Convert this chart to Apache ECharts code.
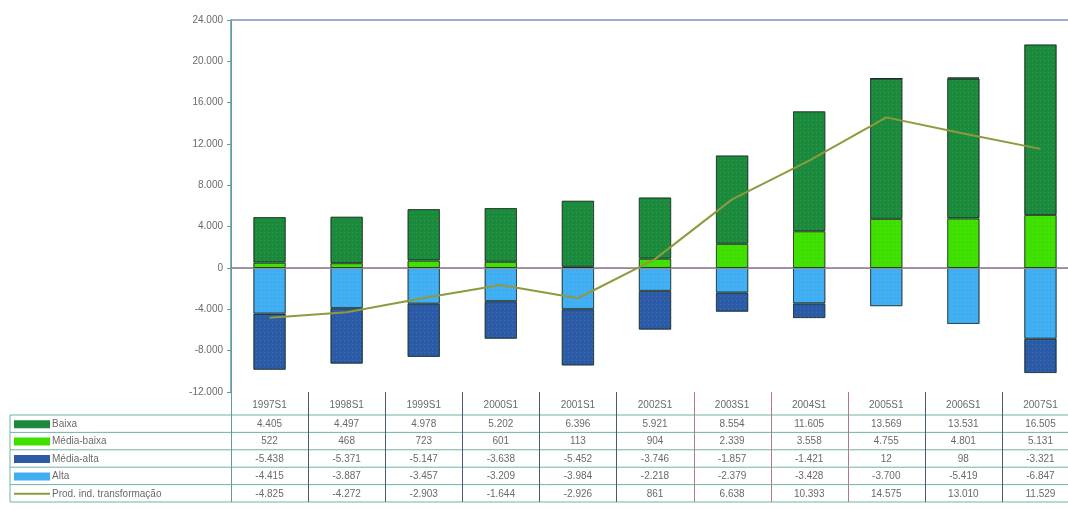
<!DOCTYPE html>
<html>
<head>
<meta charset="utf-8">
<script src="https://cdn.jsdelivr.net/npm/echarts@6/dist/echarts.min.js"></script>
<style>
  html, body { margin: 0; padding: 0; background: #fff; overflow: hidden; width: 1068px; height: 510px; }
  #chart { width: 1080px; height: 510px; }
</style>
</head>
<body>
<div id="chart"></div>
<script>
// Periods (first half of each year)
const periods = ['1997S1', '1998S1', '1999S1', '2000S1', '2001S1', '2002S1', '2003S1', '2004S1', '2005S1', '2006S1', '2007S1'];

// Trade balance by technological intensity
const baixa      = [4405, 4497, 4978, 5202, 6396, 5921, 8554, 11605, 13569, 13531, 16505];
const mediaBaixa = [522, 468, 723, 601, 113, 904, 2339, 3558, 4755, 4801, 5131];
const mediaAlta  = [-5438, -5371, -5147, -3638, -5452, -3746, -1857, -1421, 12, 98, -3321];
const alta       = [-4415, -3887, -3457, -3209, -3984, -2218, -2379, -3428, -3700, -5419, -6847];
const prodInd    = [-4825, -4272, -2903, -1644, -2926, 861, 6638, 10393, 14575, 13010, 11529];

const yTicks = { min: -12000, max: 24000, step: 4000 };

const colors = {
  'Baixa': '#1b8a3c',
  'Média-baixa': '#3fe000',
  'Média-alta': '#2b5aa6',
  'Alta': '#40aef2',
  'Prod. ind. transformação': '#8f9a3e'
};

const fmt = v => {
  const s = Math.abs(v).toString().replace(/\B(?=(\d{3})+(?!\d))/g, '.');
  return (v < 0 ? '-' : '') + s;
};

const chart = echarts.init(document.getElementById('chart'));

// Plot area geometry (the canvas is a little wider than the visible page)
const G = { left: 231, width: 848, top: 20, bottom: 118 };
const plotRight = G.left + G.width;
const colW = G.width / periods.length;
const plotBottom = 510 - G.bottom;

const barDecal = {
  symbol: 'rect',
  symbolSize: 1,
  dashArrayX: [1, 3],
  dashArrayY: [1, 3],
  color: 'rgba(255,255,255,0.12)'
};

function barSeries(name, data) {
  return {
    name, type: 'bar', stack: 'saldo', data,
    barWidth: '42%',
    itemStyle: { color: colors[name], borderColor: 'rgba(20,40,30,0.55)', borderWidth: 1, decal: barDecal },
    emphasis: { disabled: true }
  };
}

// Table rows below the plot
const rows = [
  { name: 'Baixa', values: baixa, kind: 'bar' },
  { name: 'Média-baixa', values: mediaBaixa, kind: 'bar' },
  { name: 'Média-alta', values: mediaAlta, kind: 'bar' },
  { name: 'Alta', values: alta, kind: 'bar' },
  { name: 'Prod. ind. transformação', values: prodInd, kind: 'line' }
];

const textColor = '#6a6a6a';
const fontFamily = 'Liberation Sans, Arial, sans-serif';
const headerTop = plotBottom + 2;
const headerH = 21;
const rowH = 17.4;
const legendLeft = 10;

const graphics = [];
const lineColV = '#4a5a6a';
const lineColH = '#6fb3a8';

// header labels
periods.forEach((p, i) => {
  graphics.push({
    type: 'text', silent: true,
    style: { text: p, x: G.left + colW * (i + 0.5), y: headerTop + headerH / 2 + 1, align: 'center', verticalAlign: 'middle', fill: textColor, font: '10px ' + fontFamily }
  });
});

const tableBottom = headerTop + headerH + rowH * rows.length;

// horizontal rules
graphics.push({ type: 'line', silent: true, shape: { x1: G.left, y1: headerTop + headerH, x2: plotRight, y2: headerTop + headerH }, style: { stroke: lineColH, lineWidth: 1 } });
rows.forEach((r, k) => {
  const y = headerTop + headerH + rowH * (k + 1);
  graphics.push({ type: 'line', silent: true, shape: { x1: legendLeft, y1: y, x2: plotRight, y2: y }, style: { stroke: lineColH, lineWidth: 1 } });
});
graphics.push({ type: 'line', silent: true, shape: { x1: legendLeft, y1: headerTop + headerH, x2: G.left, y2: headerTop + headerH }, style: { stroke: lineColH, lineWidth: 1 } });
// vertical rules
graphics.push({ type: 'line', silent: true, shape: { x1: legendLeft, y1: headerTop + headerH, x2: legendLeft, y2: tableBottom }, style: { stroke: lineColH, lineWidth: 1 } });
for (let i = 0; i <= periods.length; i++) {
  const x = Math.round(G.left + colW * i) + 0.5;
  const stroke = (i >= 6 && i <= 8) ? '#b07a8a' : lineColV;
  graphics.push({ type: 'line', silent: true, shape: { x1: x, y1: (i === 0 ? G.top : headerTop - 2), x2: x, y2: tableBottom }, style: { stroke: i === 0 ? '#5f9c9c' : stroke, lineWidth: 1 } });
}

rows.forEach((r, k) => {
  const yc = headerTop + headerH + rowH * k + rowH / 2 + 0.5;
  if (r.kind === 'bar') {
    graphics.push({ type: 'rect', silent: true, shape: { x: 14, y: yc - 4, width: 36, height: 8 }, style: { fill: colors[r.name] } });
  } else {
    graphics.push({ type: 'line', silent: true, shape: { x1: 14, y1: yc, x2: 50, y2: yc }, style: { stroke: colors[r.name], lineWidth: 2 } });
  }
  graphics.push({ type: 'text', silent: true, style: { text: r.name, x: 52, y: yc, verticalAlign: 'middle', fill: textColor, font: '10px ' + fontFamily } });
  r.values.forEach((v, i) => {
    graphics.push({ type: 'text', silent: true, style: { text: fmt(v), x: G.left + colW * (i + 0.5), y: yc, align: 'center', verticalAlign: 'middle', fill: textColor, font: '10px ' + fontFamily } });
  });
});

chart.setOption({
  animation: false,
  backgroundColor: '#ffffff',
  grid: { left: G.left, width: G.width, top: G.top, bottom: G.bottom, containLabel: false },
  legend: { show: false },
  xAxis: {
    type: 'category', data: periods,
    axisLine: { show: true, lineStyle: { color: '#8a7a9a', width: 1.5 } },
    axisTick: { show: false },
    axisLabel: { show: false }
  },
  yAxis: {
    type: 'value', min: yTicks.min, max: yTicks.max, interval: yTicks.step,
    axisLine: { show: true, lineStyle: { color: '#5f9c9c', width: 1.5 } },
    axisTick: { show: true, length: 4, lineStyle: { color: '#5f9c9c' } },
    axisLabel: { color: '#6a6a6a', fontSize: 10, fontFamily, margin: 8, formatter: fmt },
    splitLine: { show: false }
  },
  series: [
    barSeries('Média-baixa', mediaBaixa),
    barSeries('Baixa', baixa),
    barSeries('Alta', alta),
    barSeries('Média-alta', mediaAlta),
    {
      name: 'Prod. ind. transformação', type: 'line', data: prodInd,
      symbol: 'none', z: 5,
      lineStyle: { color: colors['Prod. ind. transformação'], width: 2 },
      markLine: {
        silent: true, symbol: 'none', label: { show: false },
        data: [
          { yAxis: 0, lineStyle: { color: '#9a8a9a', width: 1, type: 'solid' } },
          { yAxis: 24000, lineStyle: { color: '#7f93cc', width: 1.5, type: 'solid' } }
        ]
      }
    }
  ],
  graphic: graphics
});
</script>
</body>
</html>
